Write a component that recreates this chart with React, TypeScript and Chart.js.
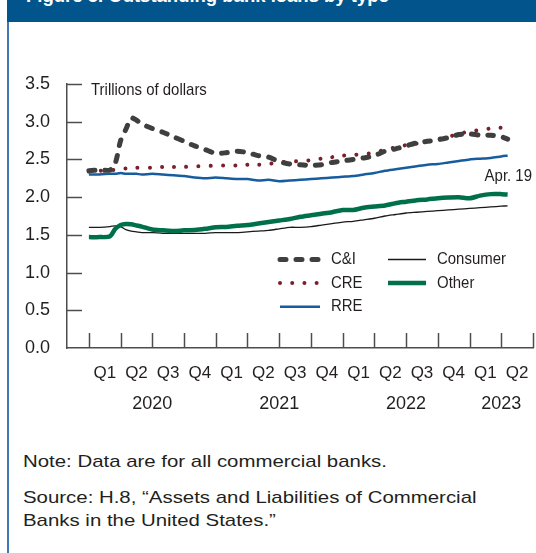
import React, { useEffect, useRef } from "react";
import { Chart, registerables } from "chart.js";

Chart.register(...registerables);

// Months since Jan 2020 (last point = Apr. 19, 2023)
const months = [0, 1, 2, 2.5, 3, 3.5, 4, 4.5, 5, 6, 7, 8, 9, 10, 11, 12, 13, 14, 15, 16, 17, 18, 19, 20, 21, 22, 23, 24, 25, 26, 27, 28, 29, 30, 31, 32, 33, 34, 35, 36, 37, 38, 39, 39.6];

const ciValues = [2.35, 2.36, 2.36, 2.45, 2.75, 2.9, 3.05, 3.02, 2.97,
  2.91, 2.86, 2.8, 2.74, 2.68, 2.63, 2.58, 2.59, 2.61, 2.59,
  2.55, 2.53, 2.47, 2.44, 2.43, 2.42, 2.43, 2.46, 2.48, 2.5,
  2.52, 2.55, 2.61, 2.64, 2.68, 2.72, 2.74, 2.76, 2.79, 2.83,
  2.84, 2.82, 2.82, 2.8, 2.77];

const creValues = [2.34, 2.35, 2.36, 2.36, 2.37, 2.38, 2.38, 2.39, 2.39,
  2.39, 2.4, 2.4, 2.4, 2.41, 2.41, 2.42, 2.42, 2.42, 2.43,
  2.43, 2.44, 2.46, 2.47, 2.48, 2.49, 2.51, 2.53, 2.55, 2.56,
  2.57, 2.59, 2.63, 2.66, 2.69, 2.71, 2.74, 2.77, 2.8, 2.84,
  2.87, 2.89, 2.91, 2.92, 2.9];

const rreValues = [2.3, 2.3, 2.31, 2.31, 2.32, 2.31, 2.31, 2.31, 2.3,
  2.31, 2.3, 2.29, 2.28, 2.26, 2.25, 2.26, 2.25, 2.24, 2.24,
  2.22, 2.23, 2.21, 2.22, 2.23, 2.24, 2.25, 2.26, 2.27, 2.28,
  2.3, 2.32, 2.35, 2.37, 2.39, 2.41, 2.43, 2.44, 2.46, 2.48,
  2.5, 2.51, 2.52, 2.54, 2.55];

const consumerValues = [1.6, 1.6, 1.61, 1.62, 1.61, 1.57, 1.55, 1.54, 1.53,
  1.53, 1.52, 1.52, 1.52, 1.52, 1.52, 1.53, 1.53, 1.53, 1.54,
  1.55, 1.56, 1.58, 1.6, 1.6, 1.61, 1.63, 1.65, 1.67, 1.68,
  1.7, 1.72, 1.75, 1.77, 1.79, 1.8, 1.81, 1.82, 1.83, 1.84,
  1.85, 1.86, 1.87, 1.88, 1.885];

const otherValues = [1.47, 1.47, 1.48, 1.58, 1.63, 1.645, 1.64, 1.625, 1.61,
  1.57, 1.56, 1.55, 1.56, 1.565, 1.58, 1.6, 1.605, 1.62, 1.63,
  1.65, 1.67, 1.69, 1.71, 1.74, 1.76, 1.78, 1.8, 1.83, 1.83,
  1.86, 1.875, 1.89, 1.92, 1.94, 1.96, 1.97, 1.985, 1.995, 2.0,
  1.985, 2.02, 2.04, 2.04, 2.035];

const quarterLabels = ["Q1", "Q2", "Q3", "Q4", "Q1", "Q2", "Q3", "Q4", "Q1", "Q2", "Q3", "Q4", "Q1", "Q2"];
const yearLabels = ["2020", "2021", "2022", "2023"];
const yearCenters = [6, 18, 30, 39];
const yTickValues = [0, 0.5, 1, 1.5, 2, 2.5, 3, 3.5];

const HEADER_BLUE = "#02558c";
const BORDER_BLUE = "#3f79b3";
const AXIS = "#4d4d4d";
const TEXT = "#231f20";
const SANS = '"Liberation Sans", Arial, sans-serif';
const CONDENSE = 0.88;

const C_CI = "#3f3f3f";
const C_CRE = "#7b1f2a";
const C_RRE = "#175c9e";
const C_CONS = "#1a1a1a";
const C_OTHER = "#00704a";

const toPoints = (vals: number[]) => months.map((m, i) => ({ x: m, y: vals[i] }));

const legendItems = [
  { label: "C&I", ds: 0, col: 0, row: 0 },
  { label: "CRE", ds: 1, col: 0, row: 1 },
  { label: "RRE", ds: 2, col: 0, row: 2 },
  { label: "Consumer", ds: 3, col: 1, row: 0 },
  { label: "Other", ds: 4, col: 1, row: 1 },
];

function fillCondensed(ctx: CanvasRenderingContext2D, text: string, x: number, y: number, align: CanvasTextAlign) {
  ctx.save();
  ctx.translate(x, y);
  ctx.scale(CONDENSE, 1);
  ctx.textAlign = align;
  ctx.textBaseline = "middle";
  ctx.fillText(text, 0, 0);
  ctx.restore();
}

const overlay = {
  id: "overlay",
  afterDraw(chart: any) {
    const { ctx, chartArea: a, scales } = chart;
    const x = scales.x;
    const y = scales.y;
    ctx.save();
    ctx.strokeStyle = AXIS;
    ctx.lineWidth = 1.5;
    ctx.setLineDash([]);
    // inward y tick marks
    for (const v of yTickValues) {
      if (v === 0) continue;
      const py = Math.round(y.getPixelForValue(v)) + 0.5;
      ctx.beginPath();
      ctx.moveTo(a.left, py);
      ctx.lineTo(a.left + 15, py);
      ctx.stroke();
    }
    // upward x tick marks at quarter boundaries
    for (let m = 0; m <= 42; m += 3) {
      const px = Math.round(x.getPixelForValue(m)) + 0.5;
      ctx.beginPath();
      ctx.moveTo(px, a.bottom);
      ctx.lineTo(px, a.bottom - 15);
      ctx.stroke();
    }
    // quarter and year labels
    ctx.fillStyle = TEXT;
    ctx.textAlign = "center";
    ctx.textBaseline = "middle";
    ctx.font = `17px ${SANS}`;
    quarterLabels.forEach((q, i) => {
      ctx.fillText(q, x.getPixelForValue(1.5 + 3 * i), a.bottom + 25);
    });
    ctx.font = `18px ${SANS}`;
    yearLabels.forEach((yl, i) => {
      ctx.fillText(yl, x.getPixelForValue(yearCenters[i]), a.bottom + 56);
    });
    // units label and date label (condensed type)
    ctx.font = `17px ${SANS}`;
    fillCondensed(ctx, "Trillions of dollars", a.left + 24, a.top + 6, "left");
    fillCondensed(ctx, "Apr. 19", a.right - 1, y.getPixelForValue(2.27), "right");
    // legend
    const ds = chart.data.datasets;
    legendItems.forEach((it) => {
      const d = ds[it.ds];
      const x0 = a.left + (it.col === 0 ? 213 : 321);
      const x1 = x0 + (it.col === 0 ? 40 : 38);
      const py = a.top + 175.5 + it.row * 23.6;
      ctx.save();
      ctx.strokeStyle = d.borderColor;
      ctx.lineWidth = d.borderWidth;
      ctx.lineCap = d.borderCapStyle || "butt";
      ctx.setLineDash(d.borderDash || []);
      ctx.beginPath();
      ctx.moveTo(x0, py);
      ctx.lineTo(x1, py);
      ctx.stroke();
      ctx.restore();
      ctx.fillStyle = TEXT;
      ctx.font = `17px ${SANS}`;
      fillCondensed(ctx, it.label, x1 + 11, py, "left");
    });
    ctx.restore();
  },
};

export default function App() {
  const ref = useRef<HTMLCanvasElement | null>(null);

  useEffect(() => {
    if (!ref.current) return;
    const chart = new Chart(ref.current, {
      type: "line",
      data: {
        datasets: [
          {
            label: "C&I",
            data: toPoints(ciValues),
            borderColor: C_CI,
            borderWidth: 5,
            borderDash: [6, 10],
            borderCapStyle: "round",
            order: 0,
          } as any,
          {
            label: "CRE",
            data: toPoints(creValues),
            borderColor: C_CRE,
            borderWidth: 4,
            borderDash: [0.01, 12.2],
            borderCapStyle: "round",
            order: 1,
          } as any,
          {
            label: "RRE",
            data: toPoints(rreValues),
            borderColor: C_RRE,
            borderWidth: 2.5,
            order: 2,
          } as any,
          {
            label: "Consumer",
            data: toPoints(consumerValues),
            borderColor: C_CONS,
            borderWidth: 1.3,
            order: 4,
          } as any,
          {
            label: "Other",
            data: toPoints(otherValues),
            borderColor: C_OTHER,
            borderWidth: 4.5,
            order: 3,
          } as any,
        ],
      },
      options: {
        animation: false,
        responsive: false,
        devicePixelRatio: 1,
        layout: { padding: { left: 0, right: 3, top: 84, bottom: 0 } },
        elements: {
          point: { radius: 0, hoverRadius: 0 },
          line: { tension: 0.25, fill: false },
        },
        plugins: {
          legend: { display: false },
          tooltip: { enabled: false },
          title: { display: false },
        },
        scales: {
          x: {
            type: "linear",
            min: -2.07,
            max: 42,
            grid: { display: true, drawOnChartArea: false, drawTicks: false },
            border: { display: true, color: AXIS, width: 1.5 },
            ticks: { display: false },
            afterFit: (s: any) => {
              s.height = 82;
            },
          },
          y: {
            type: "linear",
            min: 0,
            max: 3.5,
            grid: { display: true, drawOnChartArea: false, drawTicks: false },
            border: { display: true, color: AXIS, width: 1.5 },
            ticks: {
              stepSize: 0.5,
              padding: 17,
              color: TEXT,
              font: { family: SANS, size: 18 },
              callback: (v: any) => Number(v).toFixed(1),
            },
            afterFit: (s: any) => {
              s.width = 67;
            },
          },
        },
      },
      plugins: [overlay],
    } as any);
    return () => chart.destroy();
  }, []);

  return (
    <div
      style={{
        position: "fixed",
        left: 0,
        top: 0,
        width: 536,
        height: 553,
        background: "#fff",
        overflow: "hidden",
      }}
    >
      <div
        style={{
          position: "absolute",
          left: 7,
          top: 0,
          right: 0,
          height: 22,
          background: HEADER_BLUE,
          overflow: "hidden",
        }}
      >
        <span
          style={{
            position: "absolute",
            left: 19,
            top: -14,
            font: `bold 18.5px ${SANS}`,
            lineHeight: "20px",
            color: "#fff",
            whiteSpace: "nowrap",
          }}
        >
          Figure 5. Outstanding bank loans by type
        </span>
      </div>
      <div
        style={{
          position: "absolute",
          left: 7,
          top: 22,
          width: 2,
          bottom: 0,
          background: BORDER_BLUE,
        }}
      />
      <canvas
        ref={ref}
        width={536}
        height={430}
        style={{ position: "absolute", left: 0, top: 0, width: 536, height: 430 }}
      />
      <div
        style={{
          position: "absolute",
          left: 23,
          top: 450,
          transform: "scaleX(1.2)",
          transformOrigin: "left top",
          font: `17px ${SANS}`,
          lineHeight: "23px",
          color: TEXT,
          whiteSpace: "nowrap",
        }}
      >
        <div>Note: Data are for all commercial banks.</div>
        <div style={{ marginTop: 13 }}>
          Source: H.8, “Assets and Liabilities of Commercial
          <br />
          Banks in the United States.”
        </div>
      </div>
    </div>
  );
}
